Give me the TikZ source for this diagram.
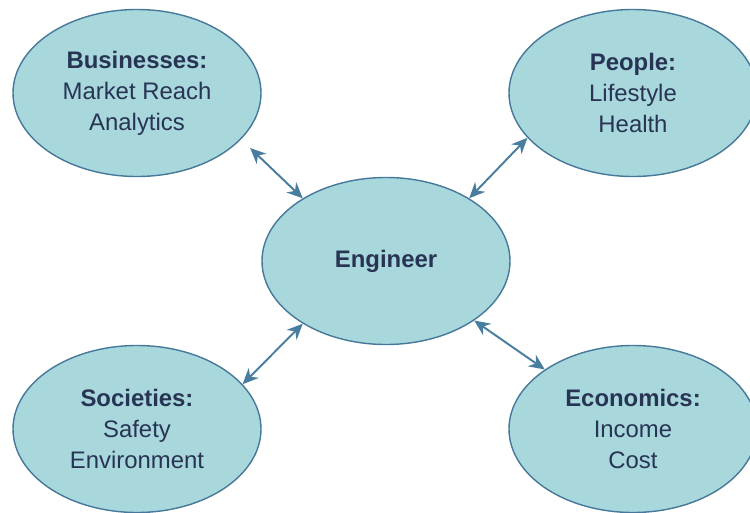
\documentclass[tikz,border=0pt]{standalone}
\usepackage{fontspec}
\setmainfont{Liberation Sans}
\usetikzlibrary{positioning, arrows.meta, shapes.geometric}
\definecolor{bubblefill}{RGB}{168,216,220}
\definecolor{bubbleline}{RGB}{70,120,155}
\definecolor{linkcol}{RGB}{72,125,160}
\definecolor{textcol}{RGB}{40,52,84}

\tikzset{
  bubble/.style={ellipse, draw=bubbleline, line width=0.8pt, fill=bubblefill,
    minimum width=4.96cm, minimum height=3.34cm, inner sep=0pt, align=center,
    text=textcol, font=\fontsize{13.6}{17.6}\selectfont},
  link/.style={draw=linkcol, line width=1.1pt,
    {Stealth[length=9pt,width=8pt]}-{Stealth[length=9pt,width=8pt]}}
}

\begin{document}
\begin{tikzpicture}
\useasboundingbox (0,0) rectangle (15,-10.24);
% centre and the four groups round it
\node[bubble] (eng) at (7.72,-5.22) {\textbf{Engineer}};
\node[bubble] (biz) at (2.74,-1.86) {\textbf{Businesses:}\\Market Reach\\Analytics};
\node[bubble] (ppl) at (12.66,-1.86) {\textbf{People:}\\Lifestyle\\Health};
\node[bubble] (soc) at (2.74,-8.58) {\textbf{Societies:}\\Safety\\Environment};
\node[bubble] (eco) at (12.66,-8.58) {\textbf{Economics:}\\Income\\Cost};

\draw[link, shorten <=0.25cm] (biz.-24) -- (eng.143);
\draw[link] (ppl.203) -- (eng.37);
\draw[link] (soc.23) -- (eng.217);
\draw[link] (eco.146) -- (eng.-34);
\end{tikzpicture}
\end{document}
